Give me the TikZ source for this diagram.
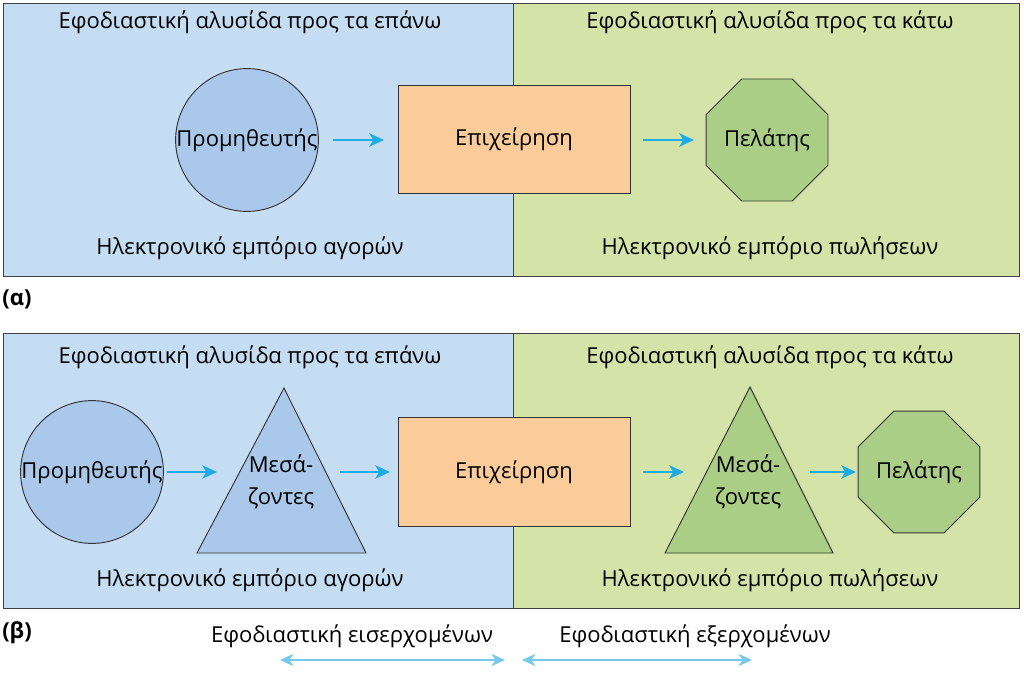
\documentclass[tikz,border=0pt]{standalone}
\usepackage{fontspec}
\setmainfont{Open Sans}
\usetikzlibrary{positioning}
\usetikzlibrary{shapes.geometric}
\usetikzlibrary{arrows.meta}
\definecolor{upbg}{RGB}{197, 221, 243}
\definecolor{downbg}{RGB}{212, 228, 168}
\definecolor{bluefill}{RGB}{169, 200, 234}
\definecolor{greenfill}{RGB}{170, 206, 134}
\definecolor{orangefill}{RGB}{251, 203, 153}
\definecolor{flowc}{RGB}{30, 172, 230}
\definecolor{logc}{RGB}{120, 200, 238}
\tikzset{
  txt/.style={font=\fontsize{16.5}{19}\selectfont, inner sep=0pt},
  panel/.style={draw=black!75, line width=0.7pt},
  shp/.style={draw=black!80, line width=0.7pt},
  flow/.style={flowc, line width=2.2pt, -{Stealth[length=11pt, width=10pt, inset=3pt]}},
  logi/.style={logc, line width=2pt, {Stealth[length=10pt, width=9pt, inset=3pt]}-{Stealth[length=10pt, width=9pt, inset=3pt]}},
}
\begin{document}
\begin{tikzpicture}[x=0.75pt, y=-0.75pt]
\useasboundingbox [fill=white] (0,0) rectangle (1024,692);
% panel (a)
\fill [upbg] (3,3) rectangle (513,276);
\fill [downbg] (513,3) rectangle (1019,276);
\draw [panel] (3,3) rectangle (1019,276);
\draw [panel] (513,3) -- (513,276);
\node (hupa) [txt] at (250,22) {Εφοδιαστική αλυσίδα προς τα επάνω};
\node (hdowna) [txt] at (770,22) {Εφοδιαστική αλυσίδα προς τα κάτω};
\node (buya) [txt] at (250,248) {Ηλεκτρονικό εμπόριο αγορών};
\node (sella) [txt] at (770,248) {Ηλεκτρονικό εμπόριο πωλήσεων};
\node (supa) [shp, circle, fill=bluefill, minimum size=134pt*0.75, txt] at (247,140) {Προμηθευτής};
\node (enta) [shp, rectangle, fill=orangefill, minimum width=232pt*0.75, minimum height=108pt*0.75, txt] at (514,139) {Επιχείρηση};
\node (cusa) [shp, regular polygon, regular polygon sides=8, fill=greenfill, minimum size=132pt*0.75, txt] at (767,140) {Πελάτης};
\coordinate (a1) at (333,140);
\coordinate (a2) at (384,140);
\coordinate (a3) at (643,140);
\coordinate (a4) at (694,140);
\draw [flow] (a1) -- (a2);
\draw [flow] (a3) -- (a4);
\node (laba) [font=\bfseries\fontsize{16.5}{19}\selectfont, inner sep=0pt] at (17,299) {(α)};
% panel (b)
\fill [upbg] (3,333) rectangle (513,608);
\fill [downbg] (513,333) rectangle (1019,608);
\draw [panel] (3,333) rectangle (1019,608);
\draw [panel] (513,333) -- (513,608);
\node (hupb) [txt] at (250,357) {Εφοδιαστική αλυσίδα προς τα επάνω};
\node (hdownb) [txt] at (770,357) {Εφοδιαστική αλυσίδα προς τα κάτω};
\node (buyb) [txt] at (250,580) {Ηλεκτρονικό εμπόριο αγορών};
\node (sellb) [txt] at (770,580) {Ηλεκτρονικό εμπόριο πωλήσεων};
\node (supb) [shp, circle, fill=bluefill, minimum size=136pt*0.75, txt] at (92,472) {Προμηθευτής};
\draw [shp, fill=bluefill] (284,388) -- (366,553) -- (197,553) -- cycle;
\node (midl) [txt, align=center] at (281,482) {Μεσά-\\[5pt]ζοντες};
\node (entb) [shp, rectangle, fill=orangefill, minimum width=232pt*0.75, minimum height=109pt*0.75, txt] at (514,472) {Επιχείρηση};
\draw [shp, fill=greenfill] (750,387) -- (833,553) -- (665,553) -- cycle;
\node (midr) [txt, align=center] at (748,482) {Μεσά-\\[5pt]ζοντες};
\node (cusb) [shp, regular polygon, regular polygon sides=8, fill=greenfill, minimum size=130pt*0.75, txt] at (919,472) {Πελάτης};
\coordinate (b1) at (167,472);
\coordinate (b2) at (217,472);
\coordinate (b3) at (340,472);
\coordinate (b4) at (390,472);
\coordinate (b5) at (643,472);
\coordinate (b6) at (684,472);
\coordinate (b7) at (810,472);
\coordinate (b8) at (856,472);
\draw [flow] (b1) -- (b2);
\draw [flow] (b3) -- (b4);
\draw [flow] (b5) -- (b6);
\draw [flow] (b7) -- (b8);
\node (labb) [font=\bfseries\fontsize{16.5}{19}\selectfont, inner sep=0pt] at (17,633) {(β)};
% logistics
\node (inlog) [txt] at (352,636) {Εφοδιαστική εισερχομένων};
\node (outlog) [txt] at (695,636) {Εφοδιαστική εξερχομένων};
\coordinate (inl) at (280,660);
\coordinate (inr) at (505,660);
\coordinate (outl) at (522,660);
\coordinate (outr) at (752,660);
\draw [logi] (inl) -- (inr);
\draw [logi] (outl) -- (outr);
\end{tikzpicture}
\end{document}
